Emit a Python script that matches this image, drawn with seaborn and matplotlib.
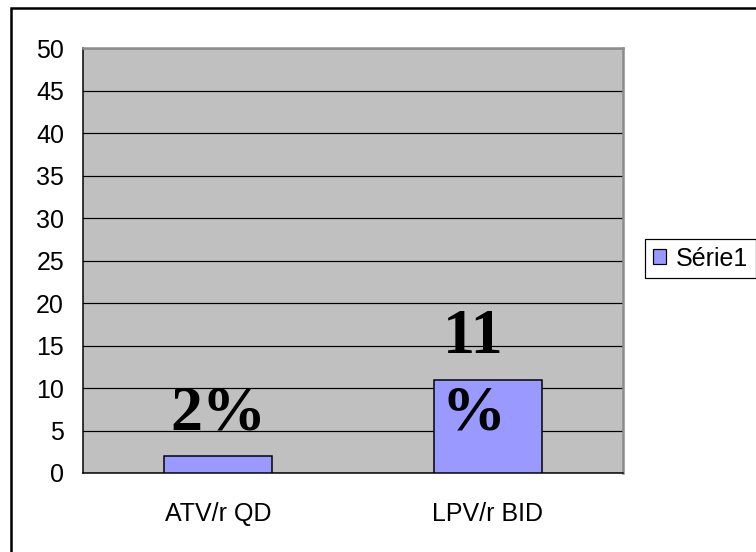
import matplotlib
matplotlib.use("Agg")
import matplotlib.pyplot as plt
import matplotlib.patches as mpatches
import seaborn as sns

categories = ["ATV/r QD", "LPV/r BID"]
values = [2, 11]
bar_labels = ["2%", "11\n%"]
series_name = "Série1"
y_ticks = list(range(0, 55, 5))

sns.set_style("white")
plt.rcParams["font.family"] = ["Liberation Sans", "DejaVu Sans"]
plt.rcParams["text.color"] = "black"

fig = plt.figure(figsize=(756 / 72, 552 / 72), dpi=72)
ax = fig.add_axes([83 / 756, 1 - 473 / 552, 540 / 756, 425 / 552])
ax.set_facecolor("#C0C0C0")

sns.barplot(
    x=categories,
    y=values,
    ax=ax,
    width=0.4,
    color="#9999FF",
    saturation=1,
    edgecolor="black",
    linewidth=1.5,
    zorder=3,
)

ax.set_xlim(-0.5, 1.5)
ax.set_ylim(0, 50)
ax.set_yticks(y_ticks)
ax.yaxis.grid(True, color="black", lw=1.2)
ax.set_axisbelow(True)

# x: labels centred, tick marks between categories
ax.set_xticks([-0.5, 0.5, 1.5], minor=True)
ax.tick_params(axis="x", which="major", length=0, pad=29, labelsize=25, labelcolor="black")
ax.tick_params(axis="x", which="minor", length=7, width=1.5, color="black", direction="out")
ax.tick_params(axis="y", length=7, width=1.5, color="black", direction="out", pad=12,
               labelsize=25, labelcolor="black")
ax.set_xlabel("")
ax.set_ylabel("")

for s in ["left", "bottom"]:
    ax.spines[s].set_color("black")
    ax.spines[s].set_linewidth(1.5)
for s in ["top", "right"]:
    ax.spines[s].set_color("#8C8C8C")
    ax.spines[s].set_linewidth(2.5)

# data labels, wrapped lines stacked upward from a common baseline
for i, lab in enumerate(bar_labels):
    lines = lab.split("\n")
    dx = -15 if len(lines) > 1 else 0
    for k, line in enumerate(reversed(lines)):
        ax.annotate(
            line,
            (i, 5.15),
            xytext=(dx, k * 76),
            textcoords="offset points",
            ha="center",
            va="baseline",
            fontsize=64,
            fontweight="bold",
            fontfamily="Liberation Serif",
            color="black",
            zorder=5,
        )

handle = mpatches.Patch(facecolor="#9999FF", edgecolor="black", lw=1.2, label=series_name)
leg = fig.legend(
    handles=[handle],
    loc="upper left",
    bbox_to_anchor=(645 / 756, 1 - 239 / 552),
    fontsize=25,
    frameon=True,
    fancybox=False,
    edgecolor="black",
    framealpha=1,
    handlelength=0.55,
    handleheight=0.55,
    handletextpad=0.4,
    borderpad=0.3,
    borderaxespad=0,
)
leg.get_frame().set_linewidth(1.2)

# outer chart frame (runs off the right and bottom edges)
fig.patches.append(
    mpatches.Rectangle(
        (11 / 756, -0.1), 1.0, 1 - 7.5 / 552 + 0.1,
        transform=fig.transFigure, fill=False, edgecolor="black", lw=2.5,
    )
)

fig.savefig("out.png", dpi=72, facecolor="white")
